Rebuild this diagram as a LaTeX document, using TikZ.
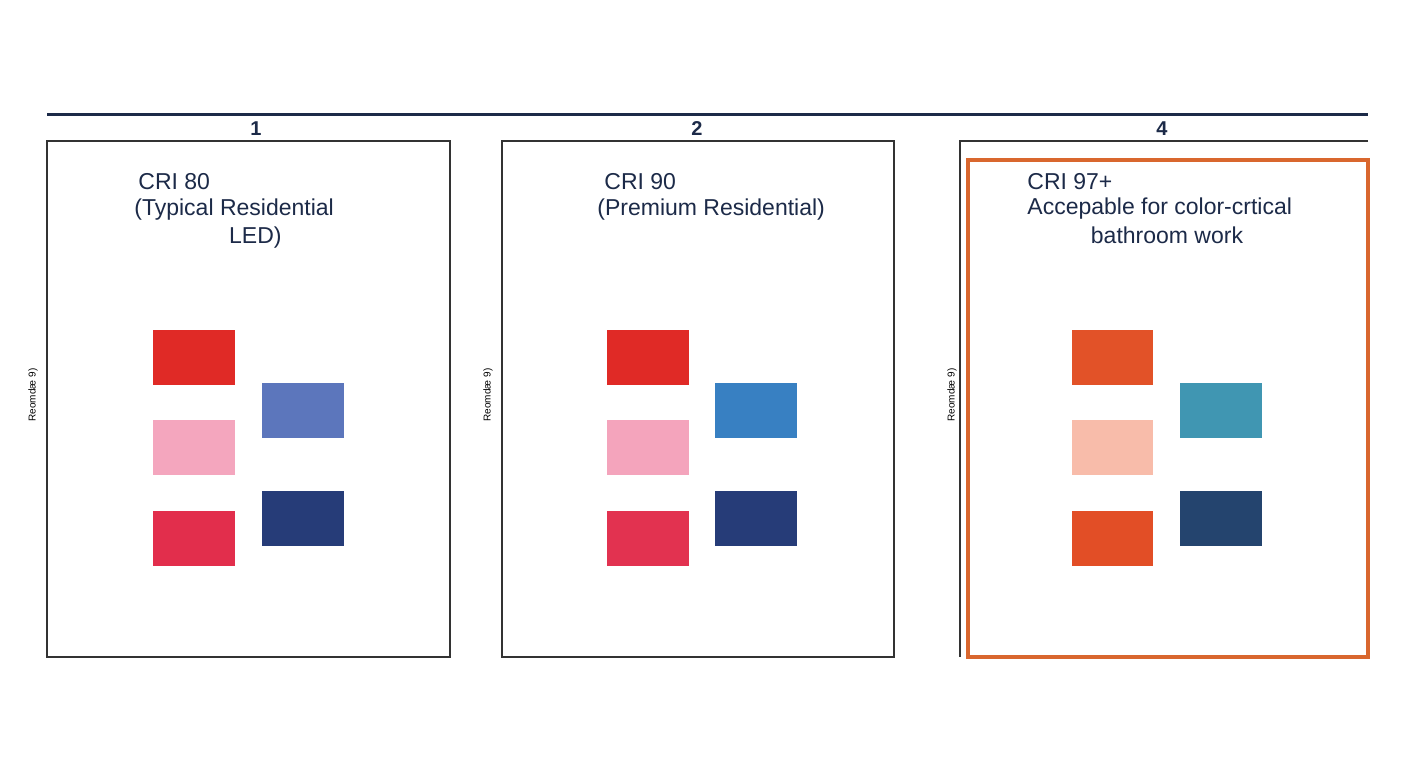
\documentclass[tikz,border=0pt]{standalone}
\usepackage{fontspec}
\setmainfont{Liberation Sans}
\definecolor{navy}{HTML}{1C2A48}
\definecolor{org}{HTML}{D9672E}
\tikzset{panel/.style={draw=black!80,line width=0.6pt},
 sw/.style={draw=none},
 t/.style={font=\fontsize{11.5}{13}\selectfont,text=navy,inner sep=0pt},
 vl/.style={font=\fontsize{5}{6}\selectfont,rotate=90,inner sep=0pt}}
\begin{document}
\begin{tikzpicture}[x=0.5pt,y=-0.5pt]
\useasboundingbox[fill=white] (0,0) rectangle (1408,768);
\draw[navy,line width=1.5pt] (47,114) coordinate(la) -- (1368,114) coordinate(lb);
\node[t,font=\bfseries\fontsize{10}{12}\selectfont] (n1) at (256,129) {1};
\node[t,font=\bfseries\fontsize{10}{12}\selectfont] (n2) at (697,129) {2};
\node[t,font=\bfseries\fontsize{10}{12}\selectfont] (n4) at (1162,129) {4};
\draw[panel] (47,141) rectangle (450,657);
\draw[panel] (502,141) rectangle (894,657);
\draw[panel] (1368,141) -- (960,141) -- (960,657);
\draw[org,line width=1.6pt] (968,160) rectangle (1368,657);
% texts
\node[t,anchor=west] (a1) at (138,182) {CRI 80};
\node[t,anchor=west] (a2) at (134,210) {(Typical Residential};
\node[t,anchor=east] (a3) at (282,238) {LED)};
\node[t,anchor=west] (b1) at (604,182) {CRI 90};
\node[t,anchor=west] (b2) at (597,210) {(Premium Residential)};
\node[t,anchor=west] (c1) at (1027,182) {CRI 97+};
\node[t,anchor=west] (c2) at (1027,209) {Accepable for color-crtical};
\node[t] (c3) at (1167,235) {bathroom work};
\node[vl] (v1) at (33,395) {Reomdæ 9)};
\node[vl] (v2) at (488,395) {Reomdæ 9)};
\node[vl] (v3) at (952,395) {Reomdæ 9)};
% swatches
\fill[fill={rgb,255:red,224;green,42;blue,38}] (153,330) rectangle (235,385);
\fill[fill={rgb,255:red,244;green,166;blue,190}] (153,420) rectangle (235,475);
\fill[fill={rgb,255:red,226;green,46;blue,76}] (153,511) rectangle (235,566);
\fill[fill={rgb,255:red,92;green,118;blue,188}] (262,383) rectangle (344,438);
\fill[fill={rgb,255:red,38;green,60;blue,120}] (262,491) rectangle (344,546);
\fill[fill={rgb,255:red,224;green,42;blue,38}] (607,330) rectangle (689,385);
\fill[fill={rgb,255:red,244;green,164;blue,188}] (607,420) rectangle (689,475);
\fill[fill={rgb,255:red,226;green,50;blue,80}] (607,511) rectangle (689,566);
\fill[fill={rgb,255:red,56;green,128;blue,194}] (715,383) rectangle (797,438);
\fill[fill={rgb,255:red,38;green,60;blue,120}] (715,491) rectangle (797,546);
\fill[fill={rgb,255:red,226;green,82;blue,40}] (1072,330) rectangle (1153,385);
\fill[fill={rgb,255:red,248;green,188;blue,170}] (1072,420) rectangle (1153,475);
\fill[fill={rgb,255:red,226;green,78;blue,38}] (1072,511) rectangle (1153,566);
\fill[fill={rgb,255:red,64;green,150;blue,178}] (1180,383) rectangle (1262,438);
\fill[fill={rgb,255:red,36;green,68;blue,110}] (1180,491) rectangle (1262,546);
\end{tikzpicture}
\end{document}
